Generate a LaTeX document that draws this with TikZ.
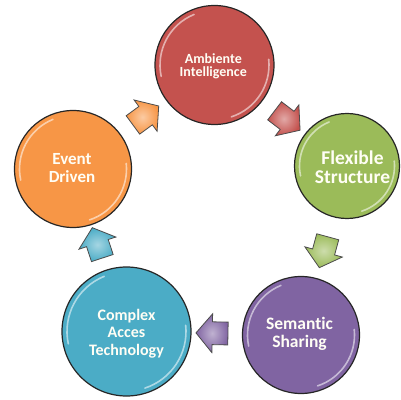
\documentclass[tikz,border=0pt]{standalone}
\usepackage{fontspec}
\setmainfont{Carlito}[Ligatures=NoCommon]
\usetikzlibrary{shapes.arrows,calc}
\definecolor{redC}{RGB}{196,82,78}
\definecolor{greenC}{RGB}{155,187,89}
\definecolor{purpleC}{RGB}{128,100,162}
\definecolor{blueC}{RGB}{75,172,198}
\definecolor{orangeC}{RGB}{247,150,70}
\tikzset{
  bubble/.style={circle, inner sep=0pt, draw=black!85, line width=1.2pt, fill=#1},
  lbl/.style={align=center, inner sep=0pt, text=white!96!yellow},
  gloss/.style={white, opacity=.55, line width=1.6pt, line cap=round},
  blockarr/.style={single arrow, inner xsep=0pt, inner ysep=11pt, minimum height=32pt,
    single arrow head extend=8pt, single arrow tip angle=100,
    draw=black!70, line width=0.8pt, inner color=#1!50!white, outer color=#1,
    sloped, allow upside down},
}
\newcommand\glossarcs[2]{%
  \draw[gloss] ($(#1.center)+(112:#2-5)$) arc[start angle=112, end angle=192, radius=#2-5];
  \draw[gloss] ($(#1.center)+(-72:#2-5)$) arc[start angle=-72, end angle=6, radius=#2-5];
}
\begin{document}
\begin{tikzpicture}[x=1pt,y=1pt]
\useasboundingbox (0,0) rectangle (401,399);
% circles
\node[bubble=redC, minimum size=119pt] (amb) at (214.5,334) {};
\node[bubble=greenC, minimum size=105pt] (flex) at (347,233) {};
\node[bubble=purpleC, minimum size=117pt] (sem) at (301,64) {};
\node[bubble=blueC, minimum size=129pt] (cplx) at (126.5,67.5) {};
\node[bubble=orangeC, minimum size=117pt] (evt) at (73,230) {};
\glossarcs{amb}{59.5}
\glossarcs{flex}{52.5}
\glossarcs{sem}{58.5}
\glossarcs{cplx}{64.5}
\glossarcs{evt}{58.5}
% labels
\node[lbl, font=\bfseries\fontsize{14}{13.5}\selectfont] (ambt) at (213.3,332.6) {Ambiente\\Intelligence};
\node[lbl, font=\bfseries\fontsize{19.5}{18.5}\selectfont] (flext) at (352.5,231.7) {Flexible\\Structure};
\node[lbl, font=\bfseries\fontsize{17.5}{18}\selectfont] (semt) at (299.5,64.8) {Semantic\\Sharing};
\node[lbl, font=\bfseries\fontsize{16}{17.5}\selectfont] (cplxt) at (126.5,65.6) {Complex\\Acces\\Technology};
\node[lbl, font=\bfseries\fontsize{17}{17.3}\selectfont] (evtt) at (72,230.8) {Event\\Driven};
% connectors (block arrows)
\path (evt) -- node[blockarr=orangeC, pos=.47] (a1) {} (amb);
\path (amb) -- node[blockarr=redC, pos=.5] (a2) {} (flex);
\path (flex) -- node[blockarr=greenC, pos=.5] (a3) {} (sem);
\path (sem) -- node[blockarr=purpleC, pos=.5] (a4) {} (cplx);
\path (cplx) -- node[blockarr=blueC, pos=.5] (a5) {} (evt);
\end{tikzpicture}
\end{document}
